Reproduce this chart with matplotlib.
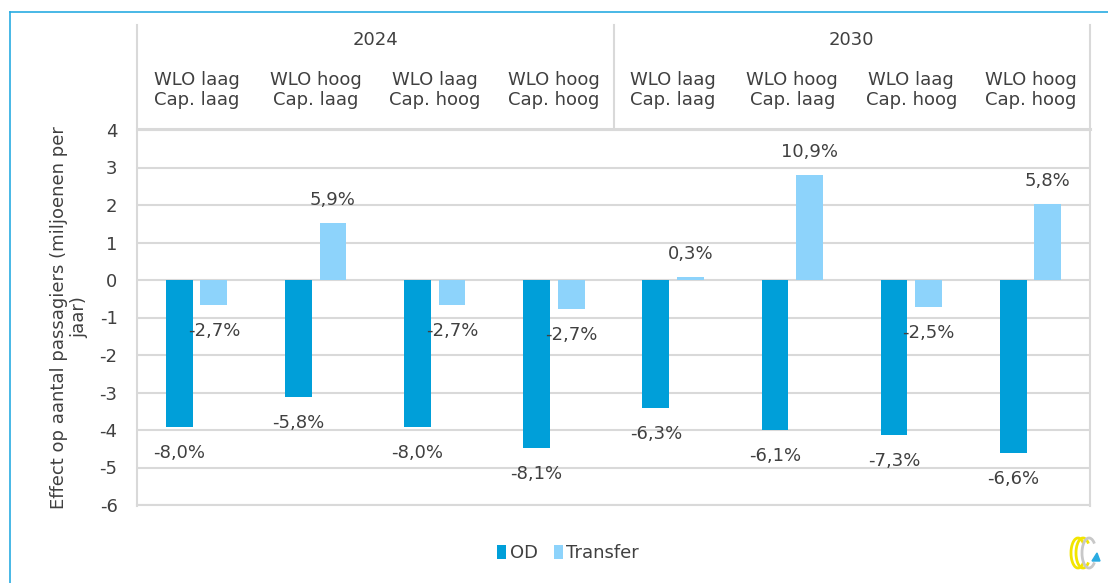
"""
plot.py
=======
Effect op aantal passagiers (OD / Transfer) per scenario, 2024 en 2030.
"""

import numpy as np
import matplotlib
matplotlib.use('Agg')
import matplotlib.pyplot as plt
from matplotlib.patches import Arc, Polygon

# ─────────────────────────────────────────────────────────────────────────────
# DATA
# ─────────────────────────────────────────────────────────────────────────────

YEARS        = ['2024', '2030']
SCENARIOS    = ['WLO laag\nCap. laag', 'WLO hoog\nCap. laag',
                'WLO laag\nCap. hoog', 'WLO hoog\nCap. hoog']
OD_VALUES    = [-3.92, -3.12, -3.92, -4.48, -3.41, -4.00, -4.13, -4.61]
TR_VALUES    = [-0.67, 1.52, -0.67, -0.77, 0.08, 2.80, -0.72, 2.02]
OD_LABELS    = ['-8,0%', '-5,8%', '-8,0%', '-8,1%', '-6,3%', '-6,1%', '-7,3%', '-6,6%']
TR_LABELS    = ['-2,7%', '5,9%', '-2,7%', '-2,7%', '0,3%', '10,9%', '-2,5%', '5,8%']
Y_TICKS      = [4, 3, 2, 1, 0, -1, -2, -3, -4, -5, -6]

# ─────────────────────────────────────────────────────────────────────────────
# STYLE
# ─────────────────────────────────────────────────────────────────────────────

C_OD    = '#009FD9'
C_TR    = '#8DD3FB'
C_GRID  = '#D9D9D9'
C_TEXT  = '#404040'
C_FRAME = '#29ABE2'
FS      = 13

plt.rcParams['font.family'] = ['DejaVu Sans']

fig = plt.figure(figsize=(11.08, 5.83), dpi=100)
ax  = fig.add_axes([137 / 1108, 1 - 505 / 583, 953 / 1108, 375 / 583])

# ── BARS ─────────────────────────────────────────────────────────────────────
n      = len(OD_VALUES)
x      = np.arange(n)
width  = 0.225
off    = 0.145

b_od = ax.bar(x - off, OD_VALUES, width, color=C_OD, label='OD', zorder=3)
b_tr = ax.bar(x + off, TR_VALUES, width, color=C_TR, label='Transfer', zorder=3)

for bars, labels in [(b_od, OD_LABELS), (b_tr, TR_LABELS)]:
    for bar, lab in zip(bars, labels):
        h  = bar.get_height()
        cx = bar.get_x() + bar.get_width() / 2
        if h < 0:
            ax.annotate(lab, (cx, h), xytext=(0, -12), textcoords='offset points',
                        ha='center', va='top', fontsize=FS, color=C_TEXT, zorder=4)
        else:
            ax.annotate(lab, (cx, h), xytext=(0, 10), textcoords='offset points',
                        ha='center', va='bottom', fontsize=FS, color=C_TEXT, zorder=4)

# ── AXES ─────────────────────────────────────────────────────────────────────
ax.set_xlim(-0.5, n - 0.5)
ax.set_ylim(-6, 4)
ax.set_yticks(Y_TICKS)
ax.set_yticklabels([str(t) for t in Y_TICKS], fontsize=FS, color=C_TEXT)
ax.set_xticks([])
ax.tick_params(axis='y', length=0, pad=14)
ax.yaxis.grid(True, color=C_GRID, lw=1.5, zorder=0)
ax.set_axisbelow(True)
for s in ['top', 'left', 'right']:
    ax.spines[s].set_visible(False)
ax.spines['bottom'].set_color(C_GRID)
ax.spines['bottom'].set_linewidth(1.5)

ax.set_ylabel('Effect op aantal passagiers (miljoenen per\njaar)',
              fontsize=FS, color=C_TEXT, labelpad=8)

# ── HEADER (two-level category axis on top) ──────────────────────────────────
trans = ax.get_xaxis_transform()
y_top = 1.28
for xv in [-0.5, 3.5, n - 0.5]:
    y0 = 1.005 if xv == 3.5 else -0.003
    ax.plot([xv, xv], [y0, y_top], transform=trans, color=C_GRID, lw=1.5,
            clip_on=False, zorder=1)
ax.plot([-0.5, n - 0.5], [1.004, 1.004], transform=trans, color=C_GRID, lw=2.2,
        clip_on=False)

for i, yr in enumerate(YEARS):
    ax.text(i * 4 + 1.5, 1.24, yr, transform=trans, ha='center', va='center',
            fontsize=FS, color=C_TEXT)
    for j, sc in enumerate(SCENARIOS):
        ax.text(i * 4 + j, 1.107, sc, transform=trans, ha='center', va='center',
                fontsize=FS, color=C_TEXT, linespacing=1.1)

# ── LEGEND ───────────────────────────────────────────────────────────────────
ax.legend(loc='center', bbox_to_anchor=(568 / 1108, 1 - 553 / 583),
          bbox_transform=fig.transFigure, ncol=2, frameon=False,
          fontsize=FS, handlelength=0.5, handleheight=0.8,
          handletextpad=0.2, columnspacing=0.9, labelcolor=C_TEXT)

# ── OUTER FRAME + LOGO ───────────────────────────────────────────────────────
fig.add_artist(plt.Line2D([10 / 1108, 1], [1 - 12 / 583, 1 - 12 / 583],
                          transform=fig.transFigure, color=C_FRAME, lw=1.2))
fig.add_artist(plt.Line2D([10 / 1108, 10 / 1108], [0, 1 - 12 / 583],
                          transform=fig.transFigure, color=C_FRAME, lw=1.2))

lx, ly = 1084, 583 - 553
for dx, col in [(-6, '#F2E500'), (-1, '#F2E500'), (5, '#C8C8C8')]:
    fig.add_artist(Arc((lx + dx, ly), 14, 30, theta1=60, theta2=300,
                       transform=None, color=col, lw=2))
fig.add_artist(Polygon([[lx + 8, ly - 8], [lx + 16, ly - 8], [lx + 13, ly]],
                       closed=True, transform=None, color=C_FRAME))

plt.savefig('out.png', dpi=100)
plt.close()
